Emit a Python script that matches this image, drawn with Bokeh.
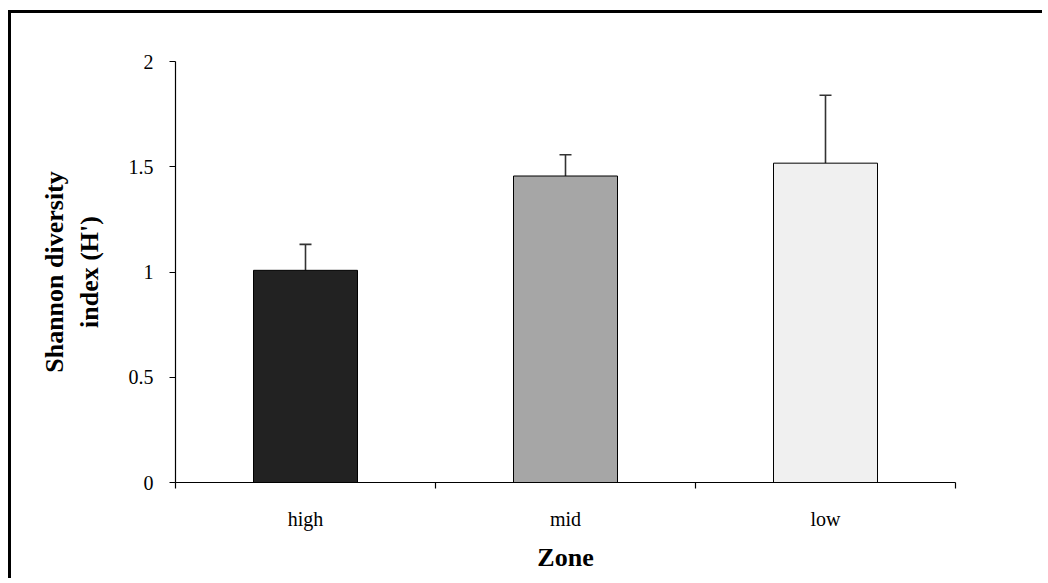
from bokeh.plotting import figure
from bokeh.models import (ColumnDataSource, Range1d, FixedTicker, Whisker, TeeHead)
from bokeh.embed import file_html
from bokeh.resources import INLINE

categories = ["high", "mid", "low"]
values = [1.008, 1.456, 1.517]
errors = [0.123, 0.101, 0.323]
colors = ["#222222", "#a6a6a6", "#f0f0f0"]
y_ticks = [0, 0.5, 1, 1.5, 2]
y_tick_labels = ["0", "0.5", "1", "1.5", "2"]

xs = [i + 0.5 for i in range(len(categories))]
src = ColumnDataSource(dict(
    x=xs, top=values, color=colors,
    lower=values, upper=[v + e for v, e in zip(values, errors)],
))

FONT = "Liberation Serif"

p = figure(width=1034, height=568, output_backend="svg", toolbar_location=None,
           x_range=Range1d(0, len(categories)), y_range=Range1d(0, 2),
           min_border_left=164, min_border_top=48, min_border_right=90,
           min_border_bottom=99)
p.styles = {"margin-left": "8px", "margin-top": "10px",
            "border-top": "3px solid black", "border-left": "3px solid black"}
p.outline_line_color = None
p.xgrid.visible = False
p.ygrid.visible = False
p.background_fill_color = "white"
p.border_fill_color = "white"

p.vbar(x="x", top="top", width=0.4, bottom=0, source=src,
       fill_color="color", line_color="black", line_width=1)

p.add_layout(Whisker(base="x", lower="lower", upper="upper", source=src,
                     line_color="#333333", line_width=1.6,
                     upper_head=TeeHead(size=12, line_color="#333333", line_width=1.6),
                     lower_head=None))

# x axis
p.xaxis.ticker = FixedTicker(ticks=xs, minor_ticks=list(range(len(categories) + 1)))
p.xaxis.major_label_overrides = {x: c for x, c in zip(xs, categories)}
p.xaxis.major_tick_out = 0
p.xaxis.major_tick_in = 0
p.xaxis.minor_tick_out = 6
p.xaxis.minor_tick_in = 0
p.xaxis.minor_tick_line_color = "black"
p.xaxis.minor_tick_line_width = 1.2
p.xaxis.axis_line_color = "black"
p.xaxis.axis_line_width = 1.2
p.xaxis.major_label_standoff = 19
p.xaxis.major_label_text_font = FONT
p.xaxis.major_label_text_font_size = "20px"
p.xaxis.major_label_text_color = "black"
p.xaxis.axis_label = "Zone"
p.xaxis.axis_label_text_font = FONT
p.xaxis.axis_label_text_font_size = "26px"
p.xaxis.axis_label_text_font_style = "bold"
p.xaxis.axis_label_text_color = "black"
p.xaxis.axis_label_standoff = 10

# y axis
p.yaxis.ticker = FixedTicker(ticks=y_ticks)
p.yaxis.major_label_overrides = {t: l for t, l in zip(y_ticks, y_tick_labels)}
p.yaxis.major_tick_out = 6
p.yaxis.major_tick_in = 0
p.yaxis.major_tick_line_width = 1.2
p.yaxis.minor_tick_out = 0
p.yaxis.minor_tick_in = 0
p.yaxis.axis_line_color = "black"
p.yaxis.axis_line_width = 1.2
p.yaxis.major_label_standoff = 16
p.yaxis.major_label_text_font = FONT
p.yaxis.major_label_text_font_size = "20px"
p.yaxis.major_label_text_color = "black"
p.yaxis.axis_label = "Shannon diversity\nindex (H')"
p.yaxis.axis_label_text_font = FONT
p.yaxis.axis_label_text_font_size = "26px"
p.yaxis.axis_label_text_font_style = "bold"
p.yaxis.axis_label_text_color = "black"
p.yaxis.axis_label_standoff = 22

open("out.html", "w").write(file_html(p, INLINE))
